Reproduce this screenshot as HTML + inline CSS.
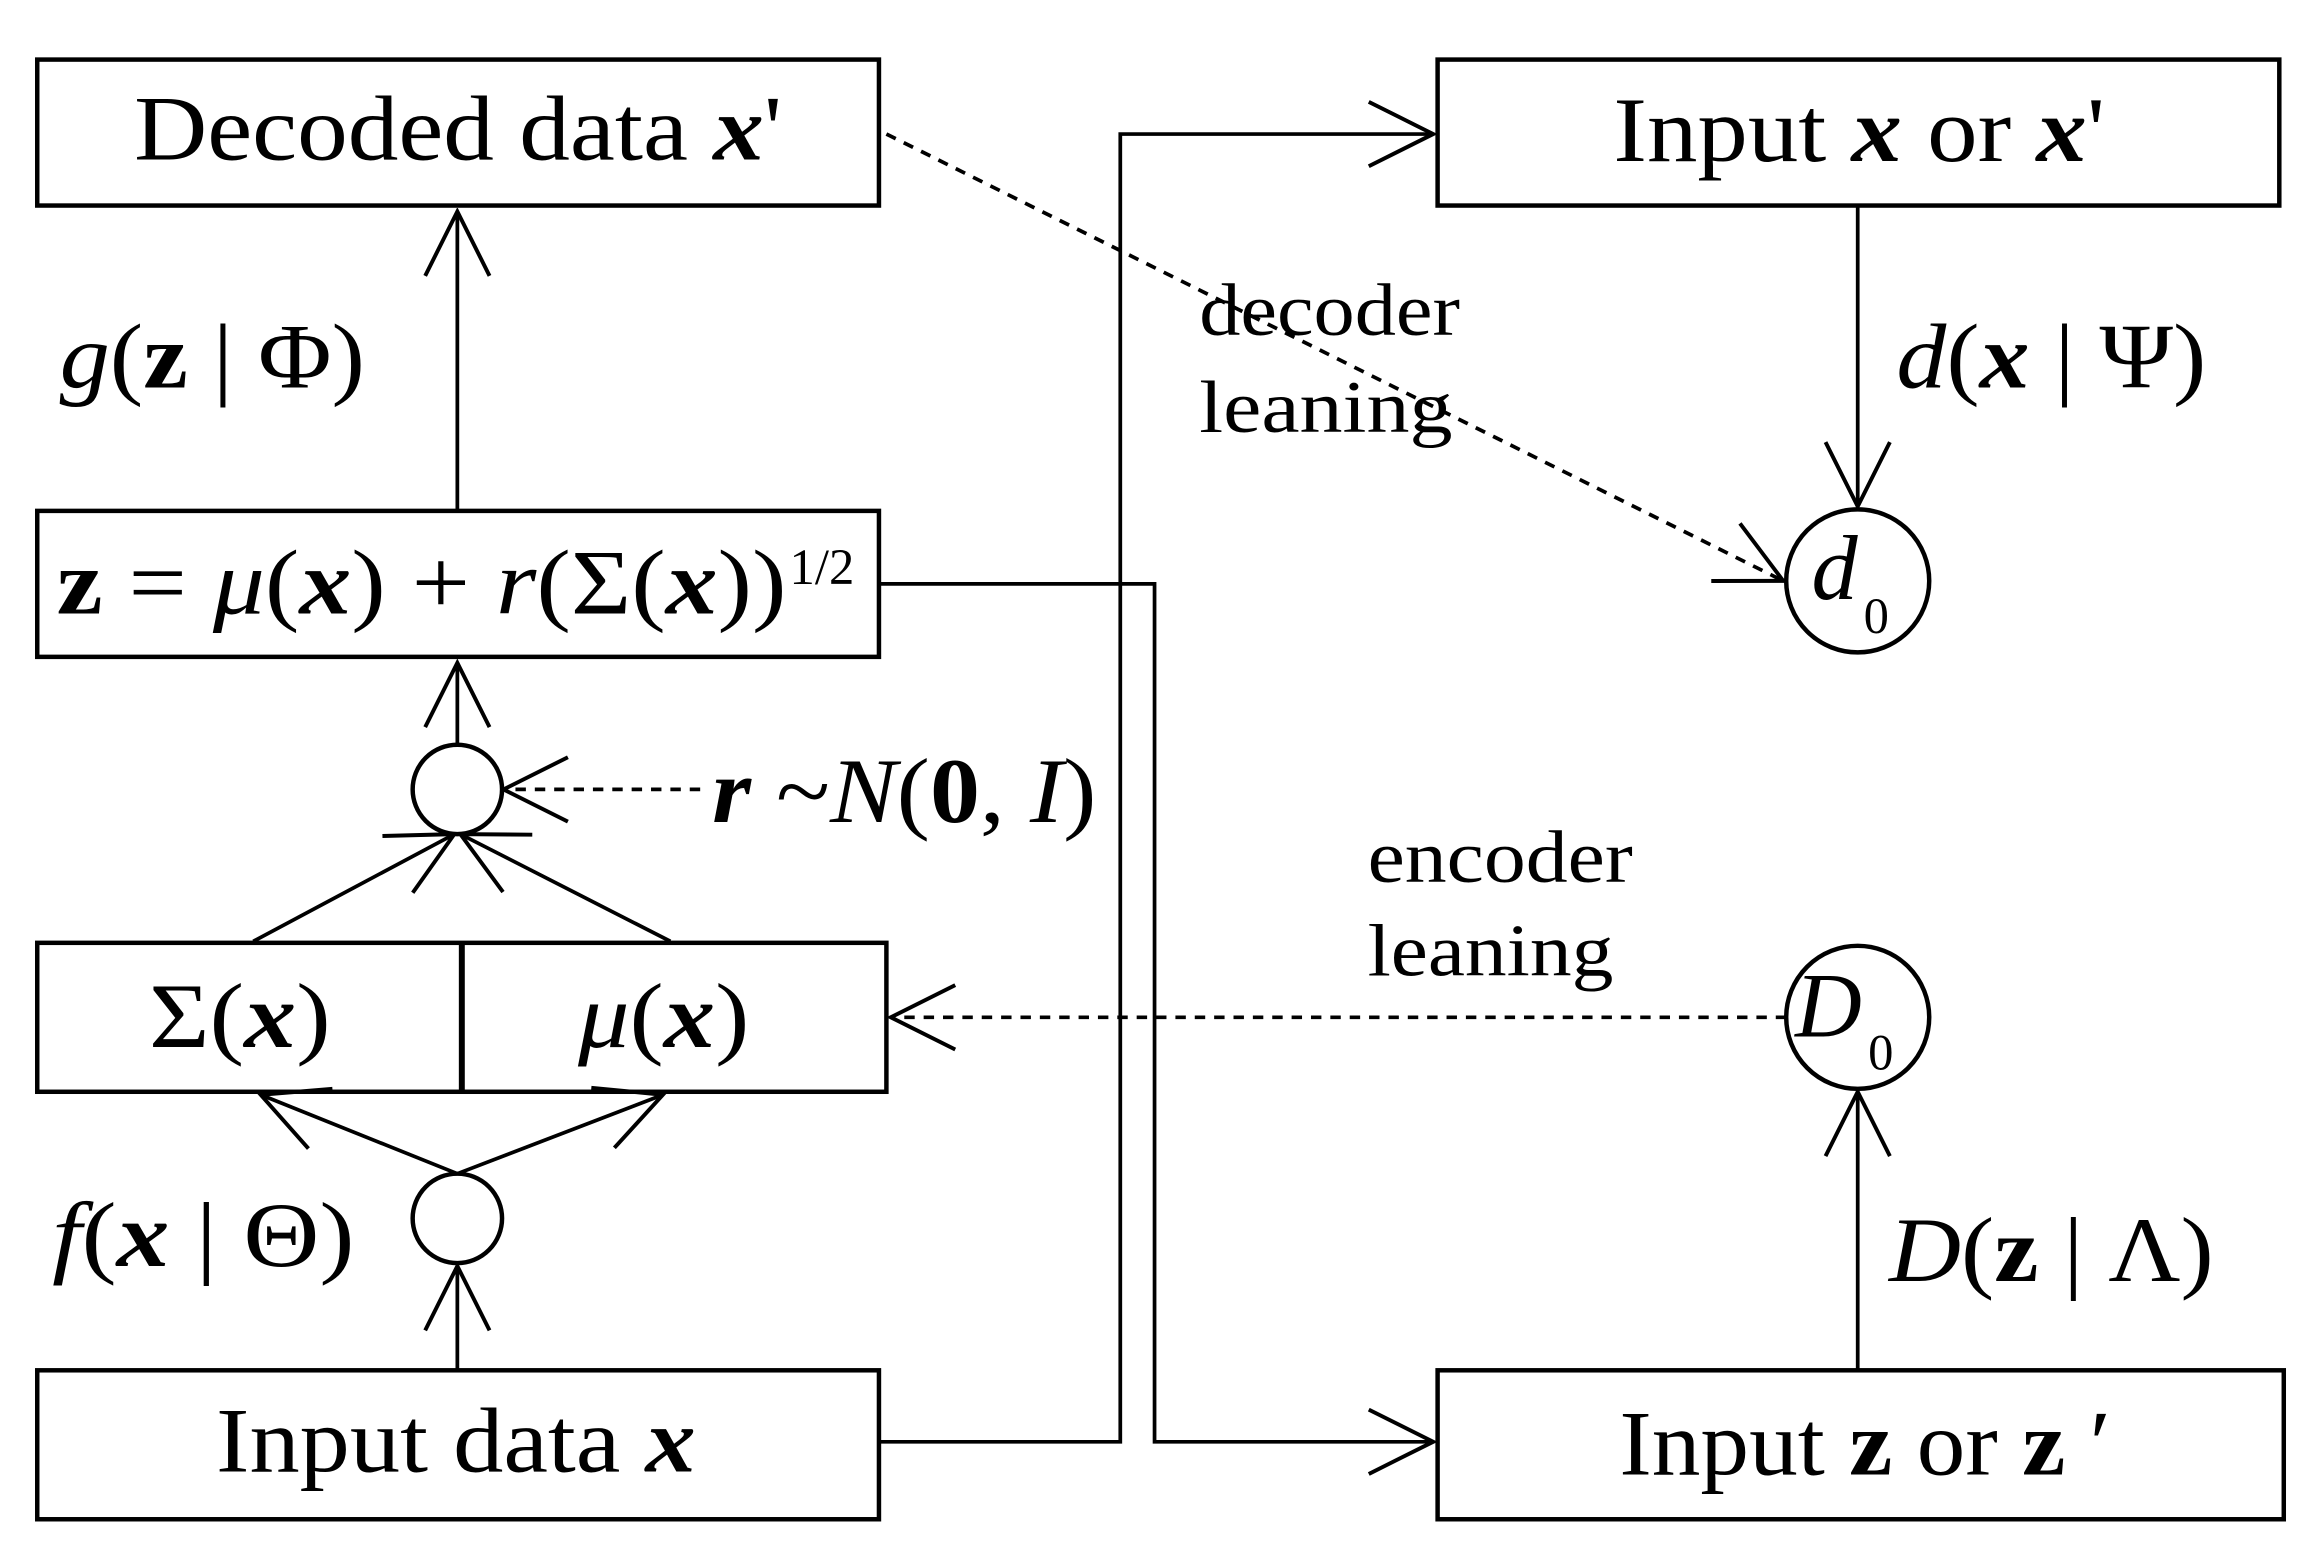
<!DOCTYPE html>
<html><head><meta charset="utf-8"><style>
html,body{margin:0;padding:0;background:#fff;}
svg{display:block;}
text{font-family:"Liberation Serif",serif;fill:#000;}
</style></head><body>
<svg width="2324" height="1555" viewBox="0 0 1560 1044" preserveAspectRatio="none" xmlns="http://www.w3.org/2000/svg">
<defs>
<marker id="b" viewBox="0 0 20 20" refX="19" refY="10" markerWidth="48" markerHeight="48" markerUnits="userSpaceOnUse" orient="auto">
<path d="M1,1 L19,10 L1,19" fill="none" stroke="#000" stroke-width="1.1"/>
</marker>
</defs>
<g fill="none" stroke="#000" stroke-width="3">
<rect x="25" y="40" width="565" height="98"/>
<rect x="25" y="343" width="565" height="98"/>
<rect x="25" y="633" width="570" height="100"/>
<line x1="310" y1="633" x2="310" y2="733" stroke-width="4"/>
<rect x="25" y="920" width="565" height="100"/>
<rect x="965" y="40" width="565" height="98"/>
<rect x="965" y="920" width="568" height="100"/>
<circle cx="307" cy="530" r="30"/>
<circle cx="307" cy="818" r="30"/>
<circle cx="1247" cy="390" r="48"/>
<circle cx="1247" cy="683" r="48"/>
</g>
<g fill="none" stroke="#000" stroke-width="2.5" marker-end="url(#b)">
<line x1="307" y1="343" x2="307" y2="142"/>
<line x1="307" y1="500" x2="307" y2="445"/>
<line x1="170" y1="632" x2="305" y2="560"/>
<line x1="450" y1="632" x2="309" y2="560"/>
<line x1="307" y1="788" x2="175" y2="735"/>
<line x1="307" y1="788" x2="445" y2="735"/>
<line x1="307" y1="920" x2="307" y2="850"/>
<polyline points="590,968 752,968 752,90 962,90"/>
<polyline points="590,392 775,392 775,968 962,968"/>
<line x1="1247" y1="138" x2="1247" y2="340"/>
<line x1="1247" y1="920" x2="1247" y2="733"/>
<line x1="470" y1="530" x2="338" y2="530" stroke-dasharray="7,6"/>
<line x1="595" y1="90" x2="1197" y2="390" stroke-dasharray="7,6"/>
<line x1="1199" y1="683" x2="598" y2="683" stroke-dasharray="7,6"/>
</g>
<g font-size="62">
<text x="90" y="107" textLength="435" lengthAdjust="spacingAndGlyphs">Decoded data <tspan font-style="italic" font-weight="bold">x</tspan>'</text>
<text x="40" y="260" textLength="205" lengthAdjust="spacingAndGlyphs"><tspan font-style="italic">g</tspan>(<tspan font-weight="bold">z</tspan> | Φ)</text>
<text x="38" y="412" textLength="490" lengthAdjust="spacingAndGlyphs"><tspan font-weight="bold">z</tspan> = <tspan font-style="italic">μ</tspan>(<tspan font-style="italic" font-weight="bold">x</tspan>) + <tspan font-style="italic">r</tspan>(Σ(<tspan font-style="italic" font-weight="bold">x</tspan>))</text>
<text x="530" y="392" font-size="34">1/2</text>
<text x="478" y="552" textLength="258" lengthAdjust="spacingAndGlyphs"><tspan font-style="italic" font-weight="bold">r</tspan> ~<tspan font-style="italic">N</tspan>(<tspan font-weight="bold">0</tspan>, <tspan font-style="italic">I</tspan>)</text>
<text x="100" y="703" textLength="122" lengthAdjust="spacingAndGlyphs">Σ(<tspan font-style="italic" font-weight="bold">x</tspan>)</text>
<text x="388" y="703" textLength="115" lengthAdjust="spacingAndGlyphs"><tspan font-style="italic">μ</tspan>(<tspan font-style="italic" font-weight="bold">x</tspan>)</text>
<text x="35" y="850" textLength="203" lengthAdjust="spacingAndGlyphs"><tspan font-style="italic">f</tspan>(<tspan font-style="italic" font-weight="bold">x</tspan> | Θ)</text>
<text x="145" y="988" textLength="322" lengthAdjust="spacingAndGlyphs">Input data <tspan font-style="italic" font-weight="bold">x</tspan></text>
<text x="1083" y="108" textLength="330" lengthAdjust="spacingAndGlyphs">Input <tspan font-style="italic" font-weight="bold">x</tspan> or <tspan font-style="italic" font-weight="bold">x</tspan>'</text>
<text x="1273" y="260" textLength="208" lengthAdjust="spacingAndGlyphs"><tspan font-style="italic">d</tspan>(<tspan font-style="italic" font-weight="bold">x</tspan> | Ψ)</text>
<text x="1268" y="860" textLength="218" lengthAdjust="spacingAndGlyphs"><tspan font-style="italic">D</tspan>(<tspan font-weight="bold">z</tspan> | Λ)</text>
<text x="1087" y="990" textLength="330" lengthAdjust="spacingAndGlyphs">Input <tspan font-weight="bold">z</tspan> or <tspan font-weight="bold">z</tspan> ′</text>
<text x="1216" y="402" font-style="italic">d</text>
<text x="1251" y="425" font-size="34">0</text>
<text x="1205" y="696" font-style="italic">D</text>
<text x="1254" y="718" font-size="34">0</text>
</g>
<g font-size="50">
<text x="805" y="225" textLength="175" lengthAdjust="spacingAndGlyphs">decoder</text>
<text x="805" y="290" textLength="170" lengthAdjust="spacingAndGlyphs">leaning</text>
<text x="918" y="592" textLength="178" lengthAdjust="spacingAndGlyphs">encoder</text>
<text x="918" y="655" textLength="165" lengthAdjust="spacingAndGlyphs">leaning</text>
</g>
</svg>
</body></html>
